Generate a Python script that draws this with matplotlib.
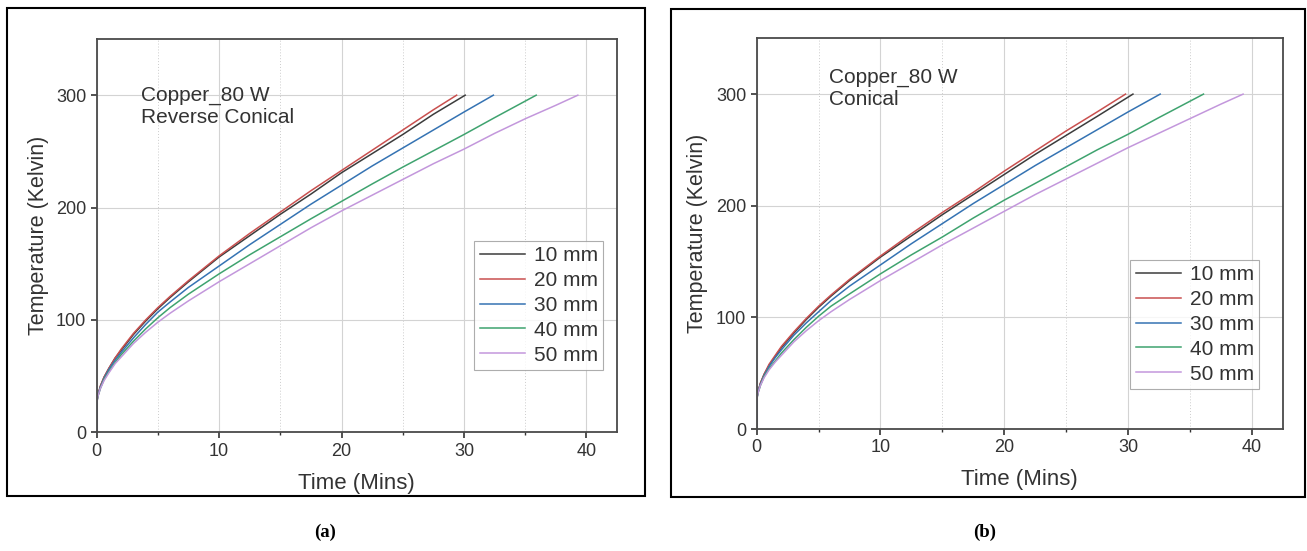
import matplotlib
matplotlib.use("Agg")
import matplotlib.pyplot as plt
from matplotlib.patches import Rectangle
from matplotlib.ticker import MultipleLocator

plt.rcParams["font.family"] = ["Liberation Sans", "DejaVu Sans"]

# ---- data ----
labels = ["10 mm", "20 mm", "30 mm", "40 mm", "50 mm"]
colors = ["#3c3c3c", "#c9504f", "#3573b3", "#3fa36f", "#c397dc"]

# sample times shared by the early part of every curve (minutes)
t_early = [0, 0.02, 0.1, 0.3, 0.6, 1, 1.5, 2, 3, 4, 5, 6, 7.5, 10, 12.5, 15, 17.5, 20, 22.5, 25, 27.5]

# (a) Copper 80 W, reverse conical
t_a_10 = t_early + [30.1]
T_a_10 = [0, 28, 33, 41, 49, 57, 66, 73, 87, 99, 110, 120, 134, 156, 175, 194, 212, 231, 248, 265, 283, 300]
t_a_20 = t_early + [29.4]
T_a_20 = [0, 28, 33, 41, 49, 57, 66, 74, 88, 100, 111, 121, 135, 157, 177, 196, 215, 233, 251, 269, 287, 300]
t_a_30 = t_early + [30, 32.4]
T_a_30 = [0, 28, 33, 40, 48, 56, 64, 71, 84, 96, 107, 116, 129, 148, 167, 185, 203, 220, 237, 253, 269, 285, 300]
t_a_40 = t_early + [30, 32.5, 35.9]
T_a_40 = [0, 27, 32, 39, 47, 54, 62, 69, 81, 92, 102, 111, 123, 141, 158, 174, 190, 205.5, 221, 236, 250.5, 265, 280, 300]
t_a_50 = t_early + [30, 32.5, 35, 37.5, 39.3]
T_a_50 = [0, 27, 32, 39, 46, 53, 61, 67, 79, 89, 98, 106, 117, 134, 150, 166, 182, 197, 211, 225, 239, 252, 266, 279, 291, 300]

# (b) Copper 80 W, conical
t_b_10 = t_early + [30.4]
T_b_10 = [0, 28, 33, 41, 49, 57, 65, 73, 86, 98, 109, 119, 133, 154, 173, 192, 210, 228, 246, 263, 280, 300]
t_b_20 = t_early + [29.8]
T_b_20 = [0, 28, 33, 41, 49, 58, 66, 74, 87, 99, 110, 120, 134, 155, 175, 194, 212, 231, 249, 267, 284, 300]
t_b_30 = t_early + [30, 32.6]
T_b_30 = [0, 28, 33, 40, 48, 56, 64, 71, 84, 95, 105, 115, 128, 147, 166, 184, 202, 219, 236, 252, 268, 284, 300]
t_b_40 = t_early + [30, 32.5, 36.1]
T_b_40 = [0, 27, 32, 39, 47, 54, 61, 68, 80, 91, 101, 110, 121, 139, 156, 172, 189, 205, 220, 235, 250, 264, 279, 300]
t_b_50 = t_early + [30, 32.5, 35, 37.5, 39.3]
T_b_50 = [0, 27, 32, 39, 46, 53, 60, 66, 78, 88, 97, 105, 116, 133, 149, 165, 180, 195, 210, 224, 238, 252, 265, 278, 291, 300]

series_a = [(t_a_10, T_a_10), (t_a_20, T_a_20), (t_a_30, T_a_30), (t_a_40, T_a_40), (t_a_50, T_a_50)]
series_b = [(t_b_10, T_b_10), (t_b_20, T_b_20), (t_b_30, T_b_30), (t_b_40, T_b_40), (t_b_50, T_b_50)]

W, H = 1307, 551
TXT = "#333333"


def px(x0, y0, x1, y1):
    """pixel box (top-left origin) -> figure fraction [left, bottom, width, height]"""
    return [x0 / W, 1 - y1 / H, (x1 - x0) / W, (y1 - y0) / H]


def draw_panel(ax, series, note, note_xy, legend_anchor):
    for (t, T), lab, c in zip(series, labels, colors):
        ax.plot(t, T, color=c, lw=1.1, label=lab)

    ax.set_xlim(0, 42.5)
    ax.set_ylim(0, 350)
    ax.xaxis.set_major_locator(MultipleLocator(10))
    ax.xaxis.set_minor_locator(MultipleLocator(5))
    ax.yaxis.set_major_locator(MultipleLocator(100))

    ax.grid(which="major", color="#d3d3d3", lw=0.8)
    ax.grid(which="minor", axis="x", color="#cccccc", lw=0.7, ls=(0, (1, 2)))
    ax.set_axisbelow(True)

    for s in ax.spines.values():
        s.set_color("#4a4a4a")
        s.set_linewidth(1.3)
    ax.tick_params(which="major", direction="out", length=4.5, width=1.2,
                   colors="#333333", labelsize=13, pad=3)
    ax.tick_params(which="minor", direction="out", length=2.5, width=1.0, colors="#333333")
    ax.tick_params(axis="y", which="minor", length=0)

    ax.set_xlabel("Time (Mins)", fontsize=16, color=TXT)
    ax.set_ylabel("Temperature (Kelvin)", fontsize=15.5, color=TXT)
    ax.xaxis.set_label_coords(0.5, -0.103)
    ax.yaxis.set_label_coords(-0.092, 0.5)

    ax.text(note_xy[0], note_xy[1], note, fontsize=15, color=TXT,
            va="top", ha="left", linespacing=1.2)

    leg = ax.legend(loc="upper right", bbox_to_anchor=legend_anchor,
                    bbox_transform=ax.figure.transFigure, fontsize=15,
                    frameon=True, fancybox=False, handlelength=2.2,
                    handletextpad=0.4, labelspacing=0.28, borderpad=0.25,
                    borderaxespad=0)
    leg.get_frame().set_edgecolor("#999999")
    leg.get_frame().set_linewidth(0.8)
    for txt in leg.get_texts():
        txt.set_color(TXT)


fig = plt.figure(figsize=(W / 100, H / 100), dpi=100)
fig.patch.set_facecolor("white")

ax_a = fig.add_axes(px(96.7, 39, 617, 432.3))
ax_b = fig.add_axes(px(756.7, 38.3, 1282.7, 429))

draw_panel(ax_a, series_a, "Copper_80 W\nReverse Conical", (3.6, 308),
           (603 / W, 1 - 241 / H))
draw_panel(ax_b, series_b, "Copper_80 W\nConical", (5.85, 323),
           (1259 / W, 1 - 260 / H))

# outer frames around each panel
for box in [(7, 8, 645, 496), (671, 9, 1305, 497)]:
    x0, y0, w, h = px(*box)
    fig.patches.append(Rectangle((x0, y0), w, h, fill=False, ec="black", lw=1.5,
                                 transform=fig.transFigure, figure=fig))

for x, lab in [(325, "(a)"), (985, "(b)")]:
    fig.text(x / W, 1 - 532 / H, lab, fontsize=13.5, fontweight="bold",
             family=["Liberation Serif", "DejaVu Serif"], ha="center", va="center")

fig.savefig("out.png", dpi=100)
